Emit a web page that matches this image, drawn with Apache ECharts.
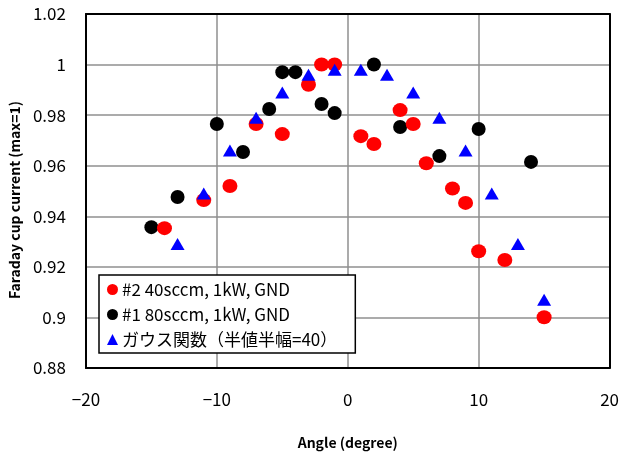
<!DOCTYPE html>
<html>
<head>
<meta charset="utf-8">
<script src="https://cdn.jsdelivr.net/npm/echarts@6/dist/echarts.min.js"></script>
<style>
  html, body { margin: 0; padding: 0; background: #fff; }
  #chart { width: 622px; height: 455px; }
</style>
</head>
<body>
<div id="chart"></div>
<script>
// Faraday cup current vs. angle, normalised to max = 1
const seriesNames = ['#2 40sccm, 1kW, GND', '#1 80sccm, 1kW, GND', 'ガウス関数（半値半幅=40）'];

const angle40 = [-14, -11, -9, -7, -5, -3, -2, -1, 1, 2, 4, 5, 6, 8, 9, 10, 12, 15];
const current40 = [0.9353, 0.9464, 0.952, 0.9765, 0.9725, 0.992, 1.0, 1.0, 0.9717, 0.9686, 0.982, 0.9765, 0.961, 0.951, 0.9453, 0.9262, 0.9227, 0.9001];

const angle80 = [-15, -13, -10, -8, -6, -5, -4, -2, -1, 2, 4, 7, 10, 14];
const current80 = [0.9357, 0.9476, 0.9765, 0.9654, 0.9824, 0.997, 0.997, 0.9844, 0.9808, 1.0, 0.9753, 0.9638, 0.9745, 0.9615];

const angleGauss = [-13, -11, -9, -7, -5, -3, -1, 1, 3, 5, 7, 9, 11, 13, 15];
const currentGauss = [0.929, 0.949, 0.966, 0.979, 0.989, 0.996, 0.998, 0.998, 0.996, 0.989, 0.979, 0.966, 0.949, 0.929, 0.907];

const zip = (xs, ys) => xs.map((x, i) => [x, ys[i]]);

const FONT = '"Noto Sans CJK JP", "Noto Sans", sans-serif';
const gridLine = { show: true, lineStyle: { color: '#8f8f8f', width: 1.5 } };
const frame = { show: true, onZero: false, lineStyle: { color: '#000', width: 2 } };

const chart = echarts.init(document.getElementById('chart'), null, { renderer: 'canvas' });
chart.setOption({
  animation: false,
  backgroundColor: '#fff',
  textStyle: { fontFamily: FONT },
  grid: { left: 83, right: 8, top: 14, bottom: 87, containLabel: false },
  xAxis: [{
    type: 'value', min: -20, max: 20, interval: 10,
    name: 'Angle (degree)', nameLocation: 'middle', nameGap: 68,
    nameTextStyle: { fontFamily: FONT, fontWeight: 'bold', fontSize: 14, color: '#000' },
    axisLine: frame, axisTick: { show: false },
    axisLabel: { fontFamily: FONT, fontSize: 17, color: '#000', margin: 23,
      formatter: v => String(v).replace('-', '\u2212') },
    splitLine: gridLine
  }, {
    type: 'value', position: 'top', min: -20, max: 20, interval: 10,
    axisLine: frame, axisTick: { show: false }, axisLabel: { show: false }, splitLine: { show: false }
  }],
  yAxis: [{
    type: 'value', min: 0.88, max: 1.02, interval: 0.02,
    name: 'Faraday cup current (max=1)', nameLocation: 'middle', nameGap: 58,
    nameTextStyle: { fontFamily: FONT, fontWeight: 'bold', fontSize: 14, color: '#000', padding: [0, 0, 0, -18] },
    axisLine: frame, axisTick: { show: false },
    axisLabel: { fontFamily: FONT, fontSize: 17, color: '#000', margin: 20,
      formatter: v => String(+v.toFixed(2)) },
    splitLine: gridLine
  }, {
    type: 'value', position: 'right', min: 0.88, max: 1.02, interval: 0.02,
    axisLine: frame, axisTick: { show: false }, axisLabel: { show: false }, splitLine: { show: false }
  }],
  legend: {
    orient: 'vertical', left: 99, top: 275,
    data: [
      { name: seriesNames[0], icon: 'circle' },
      { name: seriesNames[1], icon: 'circle' },
      { name: seriesNames[2], icon: 'triangle' }
    ],
    itemWidth: 11, itemHeight: 11, itemGap: 8,
    padding: [6, 18, 5, 8],
    backgroundColor: '#fff', borderColor: '#000', borderWidth: 1.5, borderRadius: 0,
    textStyle: { fontFamily: FONT, fontSize: 17, color: '#000', padding: [0, 0, 0, -1] }
  },
  series: [{
    name: seriesNames[0], type: 'scatter', data: zip(angle40, current40),
    symbol: 'circle', symbolSize: [15, 14], itemStyle: { color: '#ff0000', opacity: 1 }, z: 3
  }, {
    name: seriesNames[1], type: 'scatter', data: zip(angle80, current80),
    symbol: 'circle', symbolSize: 14, itemStyle: { color: '#000000', opacity: 1 }, z: 2
  }, {
    name: seriesNames[2], type: 'scatter', data: zip(angleGauss, currentGauss),
    symbol: 'triangle', symbolSize: [14, 12], itemStyle: { color: '#0000ff', opacity: 1 }, z: 4
  }]
});
</script>
</body>
</html>
